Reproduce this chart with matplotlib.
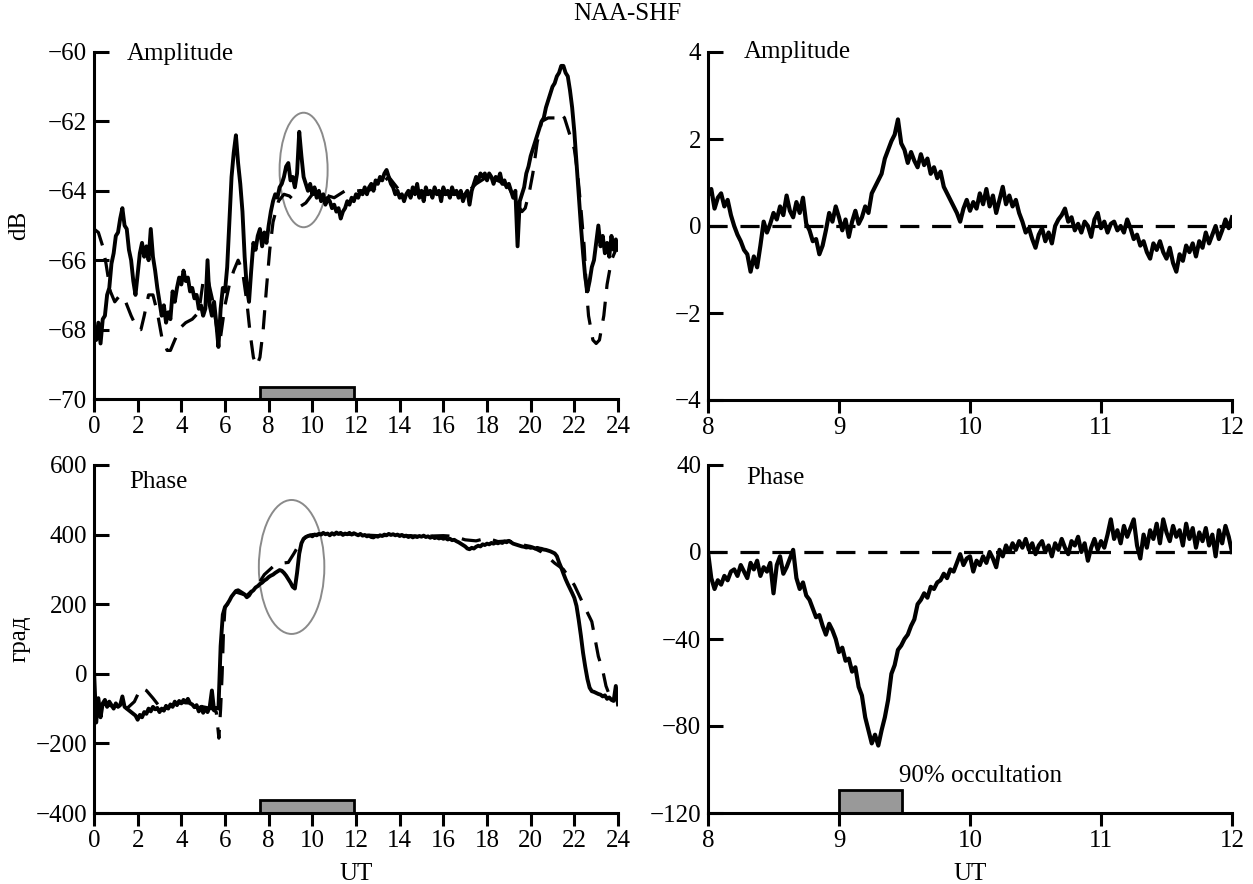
import numpy as np
import matplotlib
matplotlib.use("Agg")
import matplotlib.pyplot as plt
from matplotlib.patches import Ellipse

plt.rcParams['font.family'] = ['Liberation Serif', 'DejaVu Serif']
plt.rcParams['axes.unicode_minus'] = True

# ---------------- data ----------------
# 24-h amplitude (dB), 0.1 h step
t24 = np.round(np.arange(0, 24.001, 0.1), 2)
amp24 = [
    -68.0, -68.3, -67.8, -68.4, -67.7, -67.6, -67.0, -66.8, -66.1, -65.8,
    -65.3, -65.2, -64.8, -64.5, -65.0, -65.1, -65.7, -66.0, -66.6, -67.0,
    -66.4, -65.8, -65.5, -65.9, -65.6, -66.0, -65.1, -65.9, -66.3, -66.8,
    -67.2, -67.6, -67.3, -67.8, -67.5, -67.7, -66.9, -67.2, -66.8, -66.5,
    -66.7, -66.3, -66.6, -66.5, -66.9, -66.8, -67.1, -67.0, -67.4, -67.3,
    -67.6, -67.4, -66.0, -67.3, -67.6, -67.2, -67.8, -68.5, -67.4, -66.8,
    -66.9, -66.2, -64.9, -63.6, -62.9, -62.4, -63.2, -63.8, -64.6, -65.9,
    -66.8, -67.2, -66.3, -65.5, -65.7, -65.3, -65.1, -65.6, -65.2, -65.5,
    -65.0, -64.6, -64.3, -64.1, -64.2, -63.9, -63.8, -63.6, -63.3, -63.2,
    -63.7, -63.6, -63.9, -63.5, -62.3, -63.0, -63.6, -63.8, -64.0, -63.8,
    -64.1, -63.9, -64.2, -64.0, -64.3, -64.1, -64.4, -64.2, -64.3, -64.5,
    -64.4, -64.6, -64.5, -64.8, -64.6, -64.5, -64.3, -64.4, -64.2, -64.3,
    -64.1, -64.2, -64.0, -64.1, -63.9, -64.1, -63.9, -63.8, -64.0, -63.7,
    -63.8, -63.6, -63.7, -63.5, -63.4, -63.6, -63.8, -63.9, -64.1, -64.0,
    -64.2, -64.1, -64.3, -64.1, -64.0, -64.2, -63.9, -64.1, -63.8, -64.2,
    -64.0, -64.3, -63.9, -64.1, -64.0, -64.2, -63.9, -64.1, -64.0, -64.3,
    -63.9, -64.1, -64.0, -64.2, -63.9, -64.1, -64.0, -64.2, -64.0, -64.3,
    -64.1, -64.0, -64.4, -64.0, -63.8, -63.6, -63.7, -63.5, -63.6, -63.5,
    -63.7, -63.5, -63.6, -63.8, -63.6, -63.7, -63.5, -63.8, -63.7, -63.9,
    -63.8, -64.0, -64.2, -64.0, -65.6, -64.3, -64.1, -63.9, -63.5, -63.3,
    -63.0, -62.8, -62.6, -62.4, -62.2, -62.0, -61.9, -61.6, -61.4, -61.2,
    -61.0, -60.9, -60.7, -60.6, -60.4, -60.4, -60.6, -60.7, -61.1, -61.6,
    -62.3, -63.2, -64.1, -65.0, -65.8, -66.5, -66.9, -66.6, -66.2, -66.0,
    -65.5, -65.0, -65.6, -65.3, -65.8, -65.5, -65.9, -65.3, -65.7, -65.4,
    -65.7,
]
# quiet-day reference amplitude (dashed)
tq_amp = [0.0, 0.2, 0.4, 0.55, 0.75, 0.95, 1.2, 1.45, 1.7, 2.0, 2.15, 2.3, 2.5,
          2.7, 2.9, 3.1, 3.35, 3.5, 3.7, 3.95, 4.2, 4.5, 4.8, 5.0, 5.2, 5.45,
          5.7, 5.8, 6.0, 6.2, 6.4, 6.6, 6.8, 7.0, 7.15, 7.3, 7.45, 7.6, 7.75,
          7.9, 8.05, 8.2, 8.45, 8.7, 8.95, 9.2, 9.45, 9.7, 10.0, 10.5, 11.0,
          11.5, 12.0, 12.5, 13.0, 13.5, 14.0, 15.0, 16.0, 17.0, 17.5, 18.0,
          18.5, 19.0, 19.4, 19.6, 19.75, 19.95, 20.1, 20.3, 20.5, 20.8, 21.1,
          21.35, 21.55, 21.8, 22.0, 22.15, 22.3, 22.45, 22.55, 22.65, 22.85,
          23.0, 23.15, 23.35, 23.5, 23.7, 23.9, 24.0]
q_amp = [-65.1, -65.2, -65.6, -66.1, -66.9, -67.2, -67.0, -67.2, -67.6, -68.0,
         -68.0, -67.6, -67.0, -67.0, -67.5, -68.2, -68.6, -68.6, -68.3, -67.95,
         -67.8, -67.7, -67.5, -66.6, -66.5, -67.2, -68.3, -68.2, -67.3, -66.7,
         -66.3, -66.0, -66.3, -67.2, -68.1, -68.8, -69.05, -68.8, -68.0, -66.8,
         -65.7, -64.9, -64.3, -64.1, -64.15, -64.3, -64.45, -64.35, -64.1,
         -64.1, -64.2, -64.0, -64.0, -64.0, -63.9, -63.6, -64.0, -64.1, -64.1,
         -64.1, -63.8, -63.6, -63.7, -63.9, -64.4, -64.6, -64.5, -64.0, -63.5,
         -62.6, -62.0, -61.9, -61.9, -61.75, -61.9, -62.4, -62.8, -63.5, -64.5,
         -65.6, -66.8, -67.6, -68.3, -68.4, -68.3, -67.6, -66.7, -66.0, -65.7,
         -65.6]

# 24-h phase (deg), 0.1 h step
ph24 = [
    10, -140, -70, -125, -85, -75, -95, -80, -90, -100,
    -85, -95, -90, -65, -95, -100, -105, -110, -115, -120,
    -132, -118, -125, -110, -115, -100, -108, -95, -102, -98,
    -110, -100, -106, -92, -100, -88, -95, -80, -90, -78,
    -85, -75, -82, -72, -85, -88, -96, -90, -108, -95,
    -112, -100, -110, -95, -48, -105, -98, -100, 80, 170,
    192, 200, 210, 222, 230, 238, 240, 236, 232, 228,
    220, 225, 235, 240, 248, 252, 258, 262, 268, 272,
    278, 282, 285, 290, 294, 298, 296, 290, 282, 272,
    262, 250, 245, 290, 345, 375, 388, 393, 396, 398,
    395, 400, 398, 402, 400, 405, 401, 403, 398, 404,
    400, 406, 402, 405, 399, 403, 401, 405, 400, 404,
    401, 398, 402, 397, 399, 395, 397, 393, 392, 396,
    394, 398, 396, 400, 398, 402, 399, 401, 398, 400,
    396, 399, 395, 397, 393, 396, 392, 395, 393, 396,
    394, 397, 393, 395, 391, 394, 390, 392, 389, 391,
    388, 390, 386, 388, 384, 385, 381, 378, 374, 370,
    366, 360, 358, 362, 360, 365, 368, 366, 372, 370,
    374, 372, 376, 374, 377, 375, 378, 376, 380, 378,
    382, 378, 374, 372, 370, 368, 366, 365, 363, 364,
    362, 363, 360, 362, 360, 359, 357, 356, 354, 352,
    349, 346, 338, 320, 305, 288, 272, 258, 245, 232,
    218, 195, 155, 110, 60, 20, -15, -40, -50, -52,
    -55, -58, -60, -65, -62, -72, -68, -75, -78, -35,
    -88,
]
tq_ph = [0.0, 0.5, 1.0, 1.5, 1.85, 2.15, 2.4, 2.7, 2.95, 3.5, 4.0, 4.5, 5.0,
         5.4, 5.6, 5.72, 5.8, 5.87, 5.93, 6.0, 6.5, 7.0, 7.5, 7.8, 8.2, 8.6,
         8.9, 9.15, 9.4, 9.7, 10.0, 11.0, 12.0, 13.0, 14.0, 15.0, 16.0, 16.5,
         17.0, 17.5, 18.0, 18.5, 19.0, 19.5, 20.0, 20.5, 20.8, 21.1, 21.5,
         22.0, 22.45, 22.8, 22.95, 23.1, 23.3, 23.45, 23.6, 24.0]
q_ph = [-90, -88, -95, -100, -80, -40, -48, -70, -90, -92, -82, -85, -95,
        -100, -110, -185, -100, 0, 120, 190, 235, 225, 255, 285, 308, 318,
        320, 345, 372, 393, 400, 403, 400, 397, 398, 395, 397, 395,
        385, 382, 390, 380, 382, 372, 366, 350, 335, 318, 300,
        255, 195, 150, 100, 50, 10, -35, -60, -80]

# 8-12 UT deviations, 0.025 h step
t_zoom = np.round(np.arange(8.0, 12.0001, 0.025), 3)
amp_dev = [
    0.70, 0.85, 0.40, 0.65, 0.75, 0.45, 0.60, 0.25,
    0.00, -0.20, -0.35, -0.55, -0.65, -1.05, -0.70, -0.95,
    -0.45, 0.10, -0.15, 0.05, 0.30, 0.15, 0.45, 0.25,
    0.70, 0.35, 0.20, 0.55, 0.30, 0.65, 0.05, -0.10,
    -0.35, -0.30, -0.65, -0.45, -0.10, 0.30, 0.10, 0.45,
    0.20, -0.10, 0.15, -0.25, 0.10, 0.35, 0.05, 0.20,
    0.45, 0.30, 0.75, 0.90, 1.05, 1.20, 1.55, 1.75,
    1.95, 2.10, 2.45, 1.90, 1.75, 1.45, 1.70, 1.50,
    1.35, 1.65, 1.40, 1.55, 1.20, 1.35, 1.10, 1.25,
    0.90, 0.75, 0.60, 0.45, 0.30, 0.10, 0.40, 0.60,
    0.35, 0.55, 0.40, 0.75, 0.50, 0.85, 0.45, 0.70,
    0.30, 0.60, 0.90, 0.50, 0.70, 0.45, 0.60, 0.30,
    0.10, -0.15, -0.05, -0.30, -0.50, -0.20, -0.05, -0.35,
    -0.15, -0.40, 0.00, 0.15, 0.25, 0.40, 0.10, 0.20,
    -0.10, 0.05, -0.15, 0.10, 0.00, -0.25, 0.15, 0.30,
    -0.05, 0.10, -0.15, 0.05, 0.10, -0.10, 0.00, -0.15,
    0.15, -0.05, -0.30, -0.20, -0.45, -0.35, -0.60, -0.75,
    -0.40, -0.55, -0.35, -0.60, -0.75, -0.50, -0.85, -1.05,
    -0.65, -0.80, -0.45, -0.60, -0.40, -0.70, -0.35, -0.50,
    -0.15, -0.40, -0.20, 0.00, -0.30, -0.10, 0.15, -0.05,
    0.20,
]
ph_dev = [
    0, -12, -17, -13, -15, -11, -13, -9,
    -8, -11, -6, -9, -12, -5, -8, -4,
    -11, -7, -9, -5, -19, -6, -2, -10,
    -7, -3, 1, -12, -17, -14, -20, -22,
    -26, -30, -29, -34, -38, -33, -36, -40,
    -46, -44, -50, -49, -55, -53, -62, -66,
    -76, -82, -88, -84, -89, -82, -76, -68,
    -56, -52, -45, -43, -40, -38, -34, -31,
    -24, -22, -19, -21, -16, -17, -14, -13,
    -10, -12, -8, -9, -5, -1, -6, -3,
    -2, -9, -4, -6, -2, -5, 0, -3,
    -7, 1, -2, 3, 0, 4, 1, 5,
    2, 6, 1, 4, -1, 3, 5, 0,
    3, -2, 4, 1, 6, 2, -1, 5,
    3, 7, 0, 4, -4, 2, 6, 1,
    5, 2, 8, 15, 6, 10, 4, 12,
    7, 11, 15, 3, -3, 8, 2, 10,
    6, 13, 4, 15, 9, 5, 12, 7,
    10, 3, 13, 6, 11, 2, 9, 5,
    11, 3, 8, -2, 10, 4, 12, 7,
    0,
]

eclipse_24 = (7.6, 11.9)        # eclipse interval shown on 24-h panels
occ90 = (9.0, 9.48)             # 90% occultation interval
ell_amp = (9.6, -63.4, 2.2, 3.3)   # highlighted region (x, y, w, h)
ell_ph = (9.05, 307, 3.0, 385)

# ---------------- figure ----------------
W, H = 1253, 884
fig = plt.figure(figsize=(W / 100, H / 100), dpi=100)

def ax_at(x0, x1, y0, y1):
    return fig.add_axes([x0 / W, 1 - y1 / H, (x1 - x0) / W, (y1 - y0) / H])

ax1 = ax_at(94, 618, 52, 399)
ax2 = ax_at(708, 1232, 52, 400)
ax3 = ax_at(94, 618, 465, 813)
ax4 = ax_at(708, 1232, 465, 813)

FS = 18
for ax in (ax1, ax2, ax3, ax4):
    for s in ('top', 'right'):
        ax.spines[s].set_visible(False)
    for s in ('left', 'bottom'):
        ax.spines[s].set_linewidth(2.2)
    ax.tick_params(axis='y', direction='in', length=11, width=2.2, labelsize=FS, pad=5)
    ax.tick_params(axis='x', direction='out', length=9, width=2.2, labelsize=FS, pad=3)

dash = dict(color='black', lw=2.3, dashes=(6, 4))
solid = dict(color='black', lw=2.8)
solid_z = dict(color='black', lw=3.0)
barkw = dict(color='#999999', edgecolor='black', linewidth=2.0, align='edge')

# top-left
ax1.plot(tq_amp, q_amp, **dash)
ax1.plot(t24, amp24, **solid)
ax1.set_xlim(0, 24); ax1.set_ylim(-70, -60)
ax1.set_xticks(np.arange(0, 25, 2)); ax1.set_yticks(np.arange(-70, -59, 2))
ax1.bar(eclipse_24[0], 0.36, width=eclipse_24[1] - eclipse_24[0], bottom=-70, **barkw)
ax1.add_patch(Ellipse(ell_amp[:2], ell_amp[2], ell_amp[3], fill=False, ec='#8a8a8a', lw=1.4))
ax1.text(1.5, -60.05, 'Amplitude', fontsize=FS, va='center', ha='left')
ax1.set_ylabel('dB', fontsize=FS)
ax1.yaxis.set_label_coords(-0.122, 0.5)

# top-right
ax2.plot([8, 12], [0, 0], **dash)
ax2.plot(t_zoom, amp_dev, **solid_z)
ax2.set_xlim(8, 12); ax2.set_ylim(-4, 4)
ax2.set_xticks([8, 9, 10, 11, 12]); ax2.set_yticks([-4, -2, 0, 2, 4])
ax2.text(8.27, 4.0, 'Amplitude', fontsize=FS, va='center', ha='left')

# bottom-left
ax3.plot(tq_ph, q_ph, **dash)
ax3.plot(t24, ph24, **solid)
ax3.set_xlim(0, 24); ax3.set_ylim(-400, 600)
ax3.set_xticks(np.arange(0, 25, 2)); ax3.set_yticks(np.arange(-400, 601, 200))
ax3.bar(eclipse_24[0], 36, width=eclipse_24[1] - eclipse_24[0], bottom=-400, **barkw)
ax3.add_patch(Ellipse(ell_ph[:2], ell_ph[2], ell_ph[3], fill=False, ec='#8a8a8a', lw=1.4))
ax3.text(1.6, 550, 'Phase', fontsize=FS, va='center', ha='left')
ax3.set_ylabel('град', fontsize=FS)
ax3.yaxis.set_label_coords(-0.122, 0.5)
ax3.set_xlabel('UT', fontsize=FS, labelpad=8)

# bottom-right
ax4.plot([8, 12], [0, 0], **dash)
ax4.plot(t_zoom, ph_dev, **solid_z)
ax4.set_xlim(8, 12); ax4.set_ylim(-120, 40)
ax4.set_xticks([8, 9, 10, 11, 12]); ax4.set_yticks([-120, -80, -40, 0, 40])
ax4.bar(occ90[0], 10.4, width=occ90[1] - occ90[0], bottom=-120, **barkw)
ax4.text(occ90[1] - 0.02, -103, '90% occultation', fontsize=FS, va='center', ha='left')
ax4.text(8.29, 34, 'Phase', fontsize=FS, va='center', ha='left')
ax4.set_xlabel('UT', fontsize=FS, labelpad=8)

fig.text(627 / W, 1 - 14 / H, 'NAA-SHF', fontsize=FS, ha='center', va='center')

fig.savefig('out.png', dpi=100)
